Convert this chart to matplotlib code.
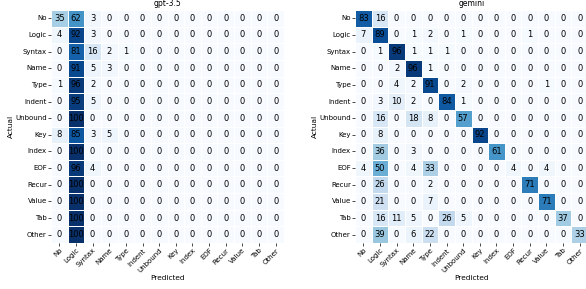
import numpy as np
import matplotlib
matplotlib.use("Agg")
import matplotlib.pyplot as plt
import seaborn as sns

labels = ["No", "Logic", "Syntax", "Name", "Type", "Indent", "Unbound",
          "Key", "Index", "EOF", "Recur", "Value", "Tab", "Other"]

gpt35 = [
    [35, 62, 3, 0, 0, 0, 0, 0, 0, 0, 0, 0, 0, 0],
    [4, 92, 3, 0, 0, 0, 0, 0, 0, 0, 0, 0, 0, 0],
    [0, 81, 16, 2, 1, 0, 0, 0, 0, 0, 0, 0, 0, 0],
    [0, 91, 5, 3, 0, 0, 0, 0, 0, 0, 0, 0, 0, 0],
    [1, 96, 2, 0, 0, 0, 0, 0, 0, 0, 0, 0, 0, 0],
    [0, 95, 5, 0, 0, 0, 0, 0, 0, 0, 0, 0, 0, 0],
    [0, 100, 0, 0, 0, 0, 0, 0, 0, 0, 0, 0, 0, 0],
    [8, 85, 3, 5, 0, 0, 0, 0, 0, 0, 0, 0, 0, 0],
    [0, 100, 0, 0, 0, 0, 0, 0, 0, 0, 0, 0, 0, 0],
    [0, 96, 4, 0, 0, 0, 0, 0, 0, 0, 0, 0, 0, 0],
    [0, 100, 0, 0, 0, 0, 0, 0, 0, 0, 0, 0, 0, 0],
    [0, 100, 0, 0, 0, 0, 0, 0, 0, 0, 0, 0, 0, 0],
    [0, 100, 0, 0, 0, 0, 0, 0, 0, 0, 0, 0, 0, 0],
    [0, 100, 0, 0, 0, 0, 0, 0, 0, 0, 0, 0, 0, 0],
]

gemini = [
    [83, 16, 0, 0, 0, 0, 0, 0, 0, 0, 0, 0, 0, 0],
    [7, 89, 0, 1, 2, 0, 1, 0, 0, 0, 1, 0, 0, 0],
    [0, 1, 96, 1, 1, 1, 0, 0, 0, 0, 0, 0, 0, 0],
    [0, 0, 2, 96, 1, 0, 0, 0, 0, 0, 0, 0, 0, 0],
    [0, 0, 4, 2, 91, 0, 2, 0, 0, 0, 0, 1, 0, 0],
    [0, 3, 10, 2, 0, 84, 1, 0, 0, 0, 0, 0, 0, 0],
    [0, 16, 0, 18, 8, 0, 57, 0, 0, 0, 0, 0, 0, 0],
    [0, 8, 0, 0, 0, 0, 0, 92, 0, 0, 0, 0, 0, 0],
    [0, 36, 0, 3, 0, 0, 0, 0, 61, 0, 0, 0, 0, 0],
    [4, 50, 0, 4, 33, 0, 0, 0, 0, 4, 0, 4, 0, 0],
    [0, 26, 0, 0, 2, 0, 0, 0, 0, 0, 71, 0, 0, 0],
    [0, 21, 0, 0, 7, 0, 0, 0, 0, 0, 0, 71, 0, 0],
    [0, 16, 11, 5, 0, 26, 5, 0, 0, 0, 0, 0, 37, 0],
    [0, 39, 0, 6, 22, 0, 0, 0, 0, 0, 0, 0, 0, 33],
]

fig = plt.figure(figsize=(5.86, 2.89), dpi=100)
ax1 = fig.add_axes([51 / 586, 46 / 289, 233 / 586, 233 / 289])
ax2 = fig.add_axes([355 / 586, 46 / 289, 233 / 586, 233 / 289])

for ax, data, title in [(ax1, gpt35, "gpt-3.5"), (ax2, gemini, "gemini")]:
    sns.heatmap(np.array(data), ax=ax, cmap="Blues", vmin=0, vmax=100,
                annot=True, fmt="d", cbar=False, linewidths=0.5, linecolor="white",
                annot_kws={"fontsize": 6, "color": "black"},
                xticklabels=labels, yticklabels=labels)
    ax.set_title(title, fontsize=5.5, pad=3)
    ax.set_xlabel("Predicted", fontsize=5.3, labelpad=1)
    ax.set_ylabel("Actual", fontsize=5.3, labelpad=1)
    ax.tick_params(axis="both", labelsize=5, length=2, pad=1, width=0.5)
    plt.setp(ax.get_xticklabels(), rotation=45, ha="right", rotation_mode="anchor")
    plt.setp(ax.get_yticklabels(), rotation=0)

fig.savefig("out.png", dpi=100)
